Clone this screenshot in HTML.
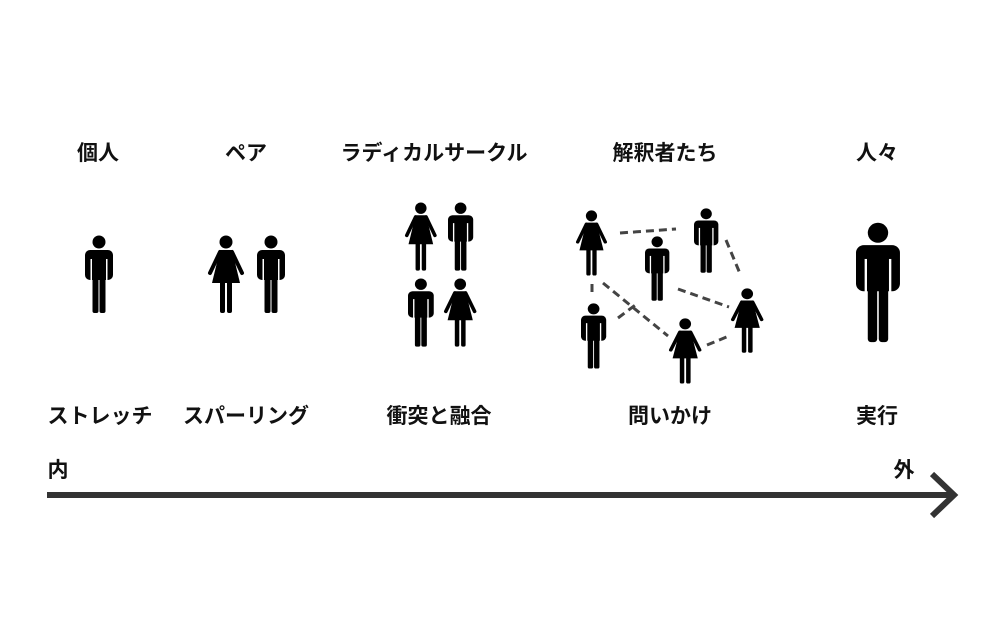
<!DOCTYPE html>
<html><head><meta charset="utf-8"><style>
body{margin:0;background:#fff;}
svg{display:block}
text{font-family:"Liberation Sans","Noto Sans CJK JP",sans-serif;font-weight:bold;font-size:21px;fill:#111;text-anchor:middle}
</style></head><body>
<svg width="1000" height="627" viewBox="0 0 1000 627">
<defs>
<g id="m">
<circle cx="14" cy="7" r="6.5" fill="#000"/>
<rect x="0" y="15" width="28" height="30" rx="5" fill="#000"/>
<rect x="5.5" y="24" width="1.5" height="22" fill="#fff"/>
<rect x="21" y="24" width="1.5" height="22" fill="#fff"/>
<rect x="7.5" y="42" width="6" height="36" rx="2" fill="#000"/>
<rect x="14.5" y="42" width="6" height="36" rx="2" fill="#000"/>
</g>
<g id="w">
<circle cx="18" cy="7" r="6.5" fill="#000"/>
<polygon points="12,15 24,15 32,48 4,48" fill="#000"/>
<path d="M12,17 L2,38 M24,17 L34,38" stroke="#000" stroke-width="4" stroke-linecap="round"/>
<rect x="12" y="44" width="5" height="34" rx="2" fill="#000"/>
<rect x="19" y="44" width="5" height="34" rx="2" fill="#000"/>
</g>
</defs>
<text x="98" y="160">個人</text>
<text x="246" y="160">ペア</text>
<text x="434" y="160">ラディカルサークル</text>
<text x="665" y="160">解釈者たち</text>
<text x="877" y="160">人々</text>
<text x="100" y="423">ストレッチ</text>
<text x="246" y="423">スパーリング</text>
<text x="439" y="423">衝突と融合</text>
<text x="670" y="423">問いかけ</text>
<text x="877" y="423">実行</text>
<text x="58" y="477">内</text>
<text x="904" y="477">外</text>
<use href="#m" transform="translate(85,235)"/>
<use href="#w" transform="translate(208,235)"/>
<use href="#m" transform="translate(257,235)"/>
<use href="#w" transform="translate(405,202) scale(0.88)"/>
<use href="#m" transform="translate(448,202) scale(0.9,0.88)"/>
<use href="#m" transform="translate(408,278) scale(0.92,0.88)"/>
<use href="#w" transform="translate(444,278) scale(0.9,0.88)"/>
<g stroke="#444" stroke-width="3" stroke-dasharray="8,5" fill="none">
<path d="M620,233 L676,229"/>
<path d="M726,240 L741,276"/>
<path d="M678,289 L729,307"/>
<path d="M592,284 L592,293"/>
<path d="M603,283 L668,336"/>
<path d="M618,318 L638,303"/>
<path d="M707,345 L729,336"/>
</g>
<use href="#w" transform="translate(576,210) scale(0.86,0.84)"/>
<use href="#m" transform="translate(694,208) scale(0.87,0.83)"/>
<use href="#m" transform="translate(645,236) scale(0.87,0.83)"/>
<use href="#w" transform="translate(731,288) scale(0.9,0.83)"/>
<use href="#m" transform="translate(581,303) scale(0.9,0.84)"/>
<use href="#w" transform="translate(669,318) scale(0.9,0.84)"/>
<use href="#m" transform="translate(856,222) scale(1.57,1.54)"/>
<line x1="47" y1="495" x2="952" y2="495" stroke="#333" stroke-width="6"/>
<polyline points="932,474 954,495 932,516" fill="none" stroke="#333" stroke-width="6"/>
</svg>
</body></html>
